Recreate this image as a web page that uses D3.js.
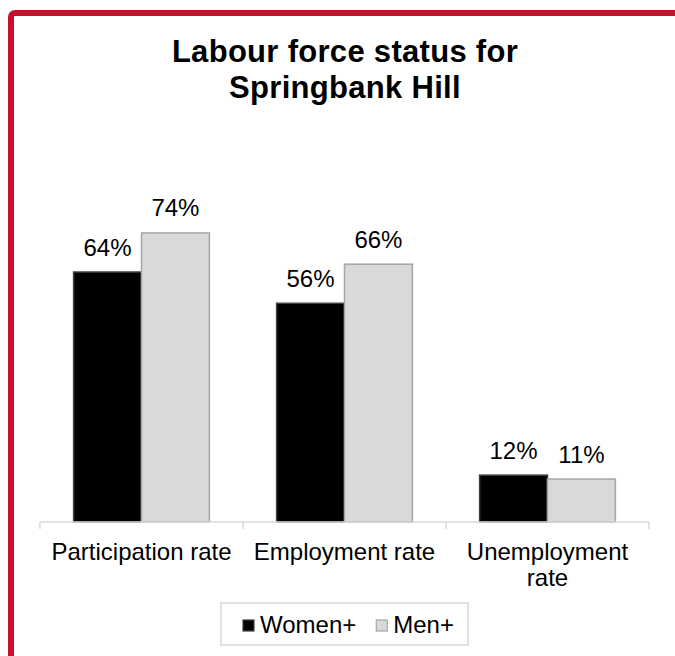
<!DOCTYPE html>
<html>
<head>
<meta charset="utf-8">
<script src="https://cdn.jsdelivr.net/npm/d3@7"></script>
<style>
  body { margin: 0; background: #fff; }
  text { font-family: "Liberation Sans", Arial, sans-serif; fill: #000; }
</style>
</head>
<body>
<script>
var categories = [["Participation rate"], ["Employment rate"], ["Unemployment", "rate"]];
var series = ["Women+", "Men+"];
var women = [64, 56, 12];
var men = [74, 66, 11];
var colors = ["#000000", "#d9d9d9"];
var borders = ["#404040", "#a6a6a6"];

var w = 675, h = 656;
var svg = d3.select("body").append("svg").attr("width", w).attr("height", h);

// red frame
svg.append("rect")
  .attr("x", 11).attr("y", 13)
  .attr("width", 720).attr("height", 720)
  .attr("rx", 4)
  .attr("fill", "none")
  .attr("stroke", "#c8102e")
  .attr("stroke-width", 6);

// title
var title = svg.append("text")
  .attr("text-anchor", "middle")
  .style("font-size", "31px")
  .style("font-weight", "bold")
  .style("letter-spacing", "0.3px");
title.append("tspan").attr("x", 345).attr("y", 62).text("Labour force status for");
title.append("tspan").attr("x", 345).attr("y", 98).text("Springbank Hill");

var keys = categories.map(function(c){ return c.join(" "); });
var x0 = d3.scaleBand().domain(keys).range([40, 649]).padding(0);
var x1 = d3.scaleBand().domain(series).range([0, x0.bandwidth()]).paddingInner(0).paddingOuter(0.495);
var y = d3.scaleLinear().domain([0, 100]).range([522, 131.4]);

var rows = keys.map(function(k, i){
  return { key: k, values: [women[i], men[i]] };
});

var groups = svg.selectAll("g.grp").data(rows).enter().append("g")
  .attr("class", "grp")
  .attr("transform", function(d){ return "translate(" + x0(d.key) + ",0)"; });

groups.selectAll("rect").data(function(d){
    return d.values.map(function(v, j){ return { s: series[j], v: v, j: j }; });
  }).enter().append("rect")
  .attr("x", function(d){ return x1(d.s); })
  .attr("y", function(d){ return y(d.v); })
  .attr("width", x1.bandwidth())
  .attr("height", function(d){ return y(0) - y(d.v); })
  .attr("fill", function(d){ return colors[d.j]; })
  .attr("stroke", function(d){ return borders[d.j]; })
  .attr("stroke-width", 1.5);

groups.selectAll("text.lbl").data(function(d){
    return d.values.map(function(v, j){ return { s: series[j], v: v }; });
  }).enter().append("text")
  .attr("class", "lbl")
  .attr("x", function(d){ return x1(d.s) + x1.bandwidth() / 2; })
  .attr("y", function(d){ return y(d.v) - 16.5; })
  .attr("text-anchor", "middle")
  .style("font-size", "24px")
  .text(function(d){ return d.v + "%"; });

// axis
var axis = d3.axisBottom(x0).tickSize(0).tickFormat("");
var gx = svg.append("g").attr("transform", "translate(0,522)").call(axis);
gx.select(".domain").attr("stroke", "#d9d9d9").attr("stroke-width", 1.5).attr("d", "M40,0H649");
var bounds = [40].concat(keys.map(function(k){ return x0(k) + x0.bandwidth(); }));
gx.selectAll("line.sep").data(bounds).enter().append("line")
  .attr("class", "sep")
  .attr("x1", function(d){ return d; }).attr("x2", function(d){ return d; })
  .attr("y1", 0).attr("y2", 7)
  .attr("stroke", "#d9d9d9").attr("stroke-width", 1.5);

svg.selectAll("text.cat").data(categories).enter().append("text")
  .attr("class", "cat")
  .attr("text-anchor", "middle")
  .style("font-size", "24px")
  .each(function(d, i){
    var cx = x0(keys[i]) + x0.bandwidth() / 2;
    d3.select(this).selectAll("tspan").data(d).enter().append("tspan")
      .attr("x", cx)
      .attr("y", function(t, k){ return 560 + k * 26; })
      .text(function(t){ return t; });
  });

// legend
var leg = svg.append("g");
leg.append("rect")
  .attr("x", 221).attr("y", 603).attr("width", 247).attr("height", 42)
  .attr("fill", "#fff").attr("stroke", "#d9d9d9").attr("stroke-width", 1.5);
var lx = 243;
series.forEach(function(s, i){
  leg.append("rect")
    .attr("x", lx).attr("y", 620).attr("width", 11).attr("height", 11)
    .attr("fill", colors[i]).attr("stroke", borders[i]).attr("stroke-width", 1.2);
  var t = leg.append("text")
    .attr("x", lx + 17).attr("y", 633)
    .style("font-size", "24px")
    .text(s);
  lx = lx + 17 + t.node().getComputedTextLength() + 20;
});
</script>
</body>
</html>
